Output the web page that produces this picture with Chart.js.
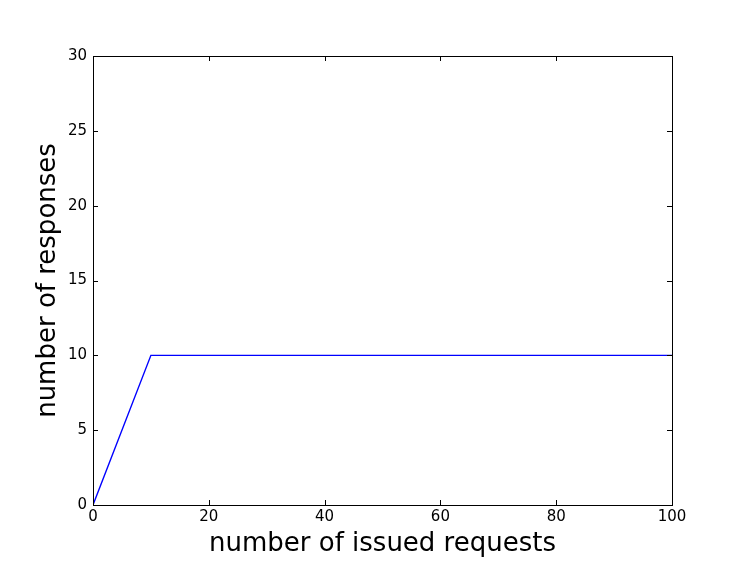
<!DOCTYPE html>
<html>
<head>
<meta charset="utf-8">
<script src="https://cdn.jsdelivr.net/npm/chart.js@4/dist/chart.umd.min.js"></script>
<style>
  html, body { margin: 0; padding: 0; background: #fff; }
  #wrap { width: 747px; height: 561px; }
</style>
</head>
<body>
<div id="wrap"><canvas id="lineChart"></canvas></div>
<script>
// data
var requests  = [0, 10, 100];
var responses = [0, 10, 10];
var xTicks = [0, 20, 40, 60, 80, 100];
var yTicks = [0, 5, 10, 15, 20, 25, 30];

var font = "'DejaVu Sans', sans-serif";

// matplotlib-like frame with ticks pointing inwards on all four sides
var frameTicks = {
  id: 'frameTicks',
  afterDatasetsDraw: function(chart) {
    var ctx = chart.ctx, a = chart.chartArea;
    var xs = chart.scales.x, ys = chart.scales.y;
    var len = 5;
    ctx.save();
    ctx.strokeStyle = '#000';
    ctx.lineWidth = 1;
    ctx.beginPath();
    xTicks.forEach(function(v) {
      var px = Math.round(xs.getPixelForValue(v)) + 0.5;
      ctx.moveTo(px, a.bottom); ctx.lineTo(px, a.bottom - len);
      ctx.moveTo(px, a.top); ctx.lineTo(px, a.top + len);
    });
    yTicks.forEach(function(v) {
      var py = Math.round(ys.getPixelForValue(v)) + 0.5;
      ctx.moveTo(a.left, py); ctx.lineTo(a.left + len, py);
      ctx.moveTo(a.right, py); ctx.lineTo(a.right - len, py);
    });
    ctx.stroke();
    ctx.strokeRect(a.left + 0.5, a.top + 0.5, a.right - a.left, a.bottom - a.top);
    ctx.restore();
  }
};

var lineCanvas = document.getElementById('lineChart').getContext('2d');
var lineChart = new Chart(lineCanvas, {
  type: 'line',
  data: {
    datasets: [{
      data: requests.map(function(r, i) { return { x: r, y: responses[i] }; }),
      borderColor: '#0000ff',
      borderWidth: 1.4,
      pointRadius: 0,
      fill: false,
      tension: 0
    }]
  },
  options: {
    responsive: true,
    maintainAspectRatio: false,
    animation: false,
    layout: { padding: { left: 0, top: 56, right: 75, bottom: 0 } },
    plugins: { legend: { display: false }, tooltip: { enabled: false } },
    scales: {
      x: {
        type: 'linear',
        min: 0, max: 100,
        grid: { display: false, drawTicks: false },
        border: { display: false },
        afterBuildTicks: function(s) { s.ticks = xTicks.map(function(v) { return { value: v }; }); },
        afterFit: function(s) { s.height = 56; },
        ticks: { color: '#000', padding: 3, maxRotation: 0, font: { family: font, size: 15 } },
        title: {
          display: true, text: 'number of issued requests', color: '#000',
          font: { family: font, size: 26 }, padding: { top: 0, bottom: 1 }
        }
      },
      y: {
        min: 0, max: 30,
        grid: { display: false, drawTicks: false },
        border: { display: false },
        afterBuildTicks: function(s) { s.ticks = yTicks.map(function(v) { return { value: v }; }); },
        afterFit: function(s) { s.width = 93; },
        ticks: { color: '#000', padding: 6, font: { family: font, size: 15 } },
        title: {
          display: true, text: 'number of responses', color: '#000',
          font: { family: font, size: 26 }, padding: { top: 33, bottom: 0 }
        }
      }
    }
  },
  plugins: [frameTicks]
});
</script>
</body>
</html>
